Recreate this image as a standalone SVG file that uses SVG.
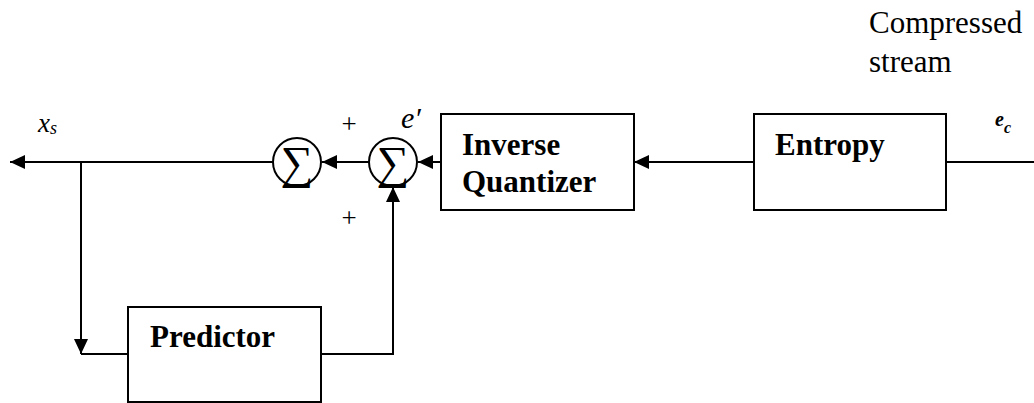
<svg xmlns="http://www.w3.org/2000/svg" width="1034" height="403" viewBox="0 0 1034 403">
<style>
.box{fill:#fff;stroke:#000;stroke-width:2}
.ln{fill:none;stroke:#000;stroke-width:2}
.lbl{font-family:"Liberation Serif","Times New Roman",serif;font-weight:bold;font-size:31px;fill:#000}
.txt{font-family:"Liberation Serif","Times New Roman",serif;font-size:31px;fill:#000}
.it{font-family:"Liberation Serif","Times New Roman",serif;font-style:italic;fill:#000}
.pl{font-family:"Liberation Serif","Times New Roman",serif;font-size:27px;fill:#000}
.sig{font-family:"Liberation Serif","DejaVu Serif",serif;font-size:46px;fill:#000}
</style>
<defs>
<marker id="ah" viewBox="0 0 15 14" refX="15" refY="7" markerWidth="15" markerHeight="14" markerUnits="userSpaceOnUse" orient="auto">
<path d="M0,0 L15,7 L0,14 Z" fill="#000"/>
</marker>
</defs>
<g id="connectors">
<line class="ln" x1="1034" y1="162" x2="946" y2="162"/>
<line class="ln" x1="754" y1="162" x2="634" y2="162" marker-end="url(#ah)"/>
<line class="ln" x1="441" y1="162" x2="418" y2="162" marker-end="url(#ah)"/>
<line class="ln" x1="369" y1="162" x2="322" y2="162" marker-end="url(#ah)"/>
<line class="ln" x1="273" y1="162" x2="10" y2="162" marker-end="url(#ah)"/>
<polyline class="ln" points="81,162 81,354" marker-end="url(#ah)"/>
<line class="ln" x1="81" y1="354" x2="128" y2="354"/>
<polyline class="ln" points="321,354 393,354 393,187" marker-end="url(#ah)"/>
</g>
<g id="sum1">
<circle class="ln" cx="297" cy="162" r="24"/>
<text class="sig" x="297" y="178" text-anchor="middle">∑</text>
</g>
<g id="sum2">
<circle class="ln" cx="393" cy="162" r="24"/>
<text class="sig" x="393" y="178" text-anchor="middle">∑</text>
</g>
<g id="inverse-quantizer">
<rect class="box" x="441" y="114" width="193" height="96"/>
<text class="lbl" x="462" y="155">Inverse</text>
<text class="lbl" x="462" y="192">Quantizer</text>
</g>
<g id="entropy">
<rect class="box" x="754" y="114" width="192" height="96"/>
<text class="lbl" x="775" y="155">Entropy</text>
</g>
<g id="predictor">
<rect class="box" x="128" y="307" width="193" height="95"/>
<text class="lbl" x="150" y="347">Predictor</text>
</g>
<g id="labels">
<text class="txt" x="869" y="33">Compressed</text>
<text class="txt" x="869" y="72">stream</text>
<text class="it" x="38" y="132" font-size="27">x<tspan font-size="18" dy="2">s</tspan></text>
<text class="it" x="401" y="128" font-size="30">e′</text>
<text class="pl" x="349" y="133" text-anchor="middle">+</text>
<text class="pl" x="349" y="227" text-anchor="middle">+</text>
<text class="it" x="995" y="126" font-size="20" font-weight="bold" fill="#666">e<tspan font-size="16" dy="7">c</tspan></text>
</g>
</svg>
